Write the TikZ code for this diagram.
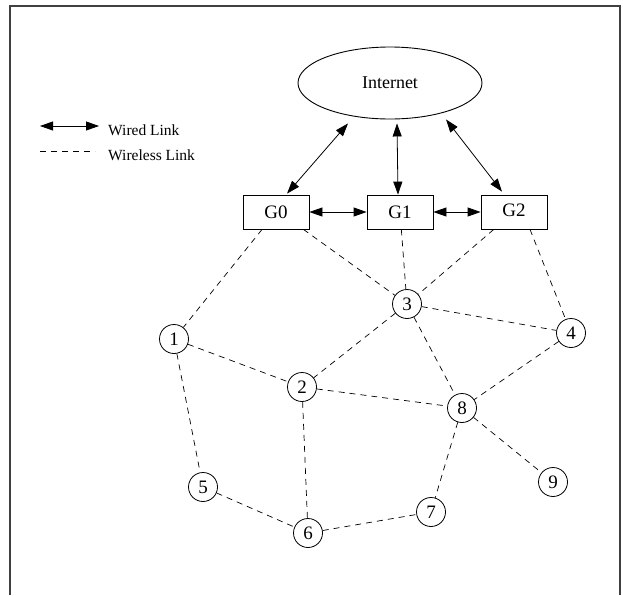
\documentclass[tikz,border=0pt]{standalone}
\usepackage{fontspec}
\setmainfont{Liberation Serif}
\usetikzlibrary{arrows.meta,shapes.geometric}
\begin{document}
\begin{tikzpicture}[x=1pt,y=-1pt,
 tip/.tip={Triangle[length=13pt,width=9pt]},
 wired/.style={tip-tip, line width=0.8pt},
 wless/.style={line width=0.7pt, dash pattern=on 6pt off 5pt},
 gw/.style={draw, line width=0.8pt, minimum width=66pt, minimum height=34pt, inner sep=0pt, font=\fontsize{19}{22}\selectfont},
 mn/.style={draw, circle, line width=0.8pt, minimum size=29pt, inner sep=0pt, font=\fontsize{19}{22}\selectfont},
 lbl/.style={anchor=west, inner sep=0pt, font=\fontsize{15.5}{18}\selectfont}]
\useasboundingbox (0,0) rectangle (623,595);
\draw[line width=1.5pt, black!75] (10,595) -- (10,6) -- (620,6) -- (620,595);

% legend
\coordinate (wa) at (40,126);
\coordinate (wb) at (99,126);
\draw[wired] (wa) -- (wb);
\node[lbl] (wl) at (108,130) {Wired Link};
\coordinate (da) at (40,151);
\coordinate (db) at (95,151);
\draw[wless] (da) -- (db);
\node[lbl] (wsl) at (108,155) {Wireless Link};

% nodes
\node[draw, ellipse, line width=0.9pt, minimum width=184pt, minimum height=72pt, inner sep=0pt, font=\fontsize{18}{21}\selectfont] (inet) at (390,83) {Internet};
\node[gw] (G0) at (276,212) {G0};
\node[gw] (G1) at (400,212) {G1};
\node[gw] (G2) at (514,212) {\raisebox{3pt}{G2}};

\node[mn] (n1) at (174,339) {1};
\node[mn] (n2) at (302,387) {2};
\node[mn] (n3) at (407,304) {3};
\node[mn] (n4) at (571,333) {4};
\node[mn] (n5) at (203,487) {5};
\node[mn] (n6) at (308,533) {6};
\node[mn] (n7) at (431,512) {7};
\node[mn] (n8) at (462,408) {8};
\node[mn] (n9) at (553,482) {9};

% wired links
\draw[wired] ([xshift=-42pt,yshift=-4pt]inet.south) -- ([xshift=11pt,yshift=1pt]G0.north);
\draw[wired] ([xshift=7pt,yshift=-4pt]inet.south) -- ([xshift=-2pt]G1.north);
\draw[wired] ([xshift=56pt,yshift=0pt]inet.south) -- ([xshift=-12pt,yshift=3pt]G2.north);
\draw[wired] (G0) -- (G1);
\draw[wired] (G1) -- (G2);

% wireless links
\draw[wless] (G0) -- (n1);
\draw[wless] ([xshift=-6pt]G0.south east) -- (n3);
\draw[wless] (G1) -- (n3);
\draw[wless] (G2) -- (n3);
\draw[wless] ([xshift=16pt]G2.south) -- (n4);
\draw[wless] (n1) -- (n2);
\draw[wless] (n1) -- (n5);
\draw[wless] (n3) -- (n2);
\draw[wless] (n3) -- (n4);
\draw[wless] (n3) -- (n8);
\draw[wless] (n2) -- (n8);
\draw[wless] (n2) -- (n6);
\draw[wless] (n4) -- (n8);
\draw[wless] (n8) -- (n9);
\draw[wless] (n8) -- (n7);
\draw[wless] (n5) -- (n6);
\draw[wless] (n6) -- (n7);
\end{tikzpicture}
\end{document}
